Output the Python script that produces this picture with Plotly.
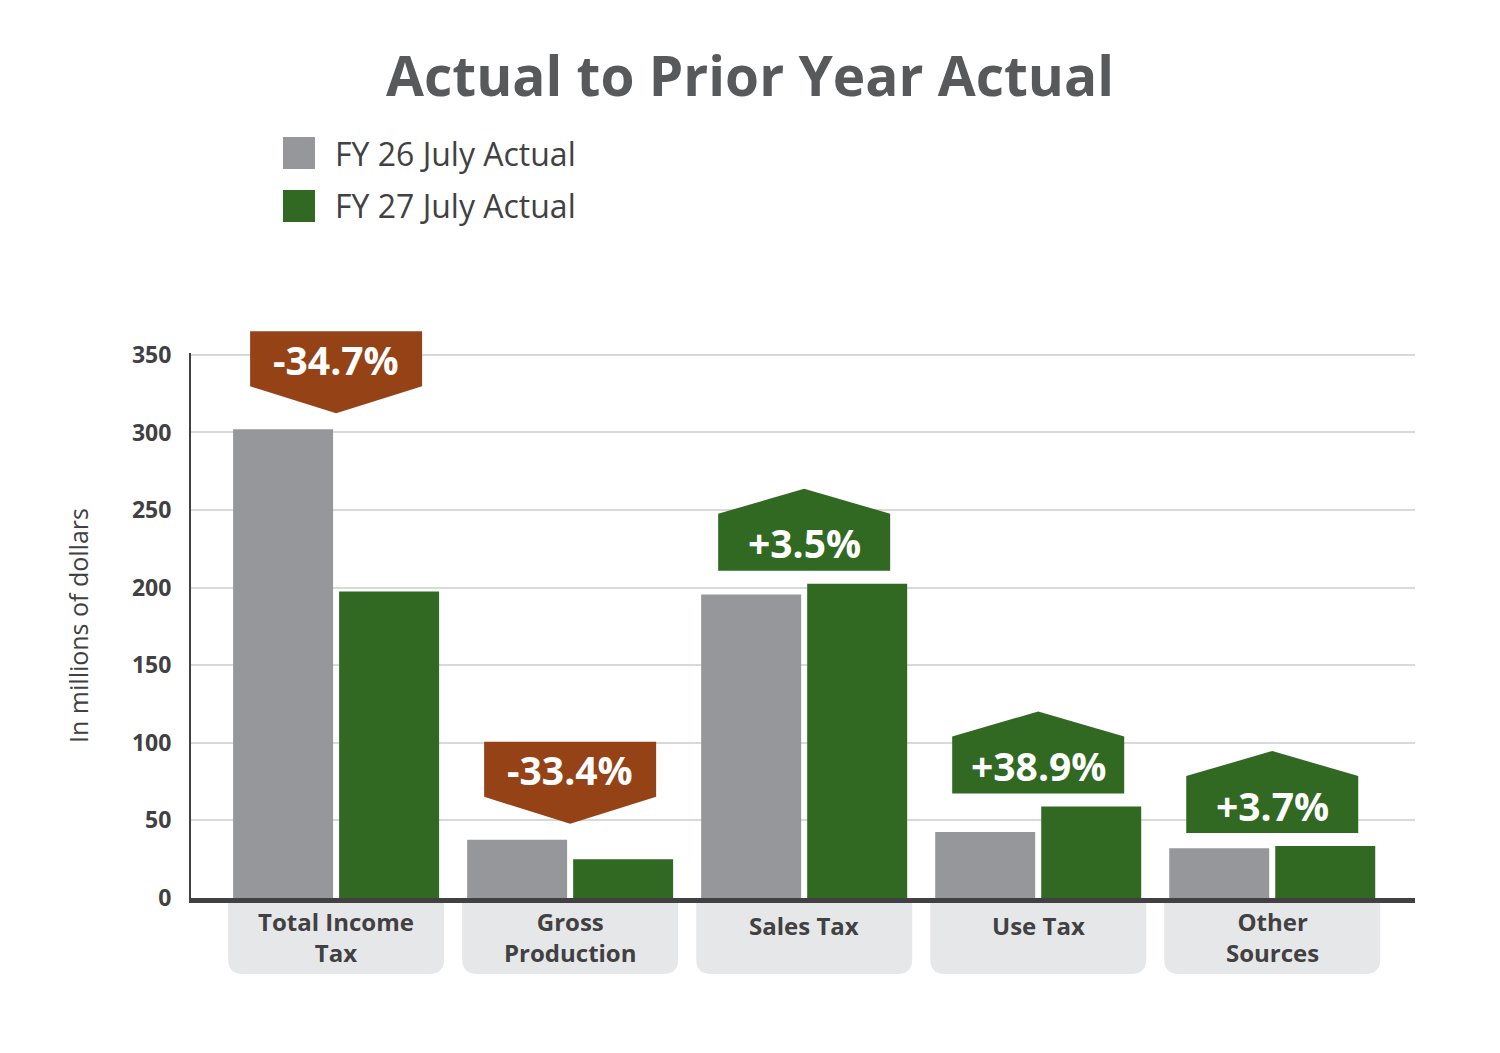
import plotly.graph_objects as go

# Data (millions of dollars)
categories = ["Total Income Tax", "Gross Production", "Sales Tax", "Use Tax", "Other Sources"]
label_lines = [["Total Income", "Tax"], ["Gross", "Production"], ["Sales Tax"], ["Use Tax"], ["Other", "Sources"]]
fy26 = [302, 37.5, 195.5, 42.5, 32]
fy27 = [197.5, 25, 202.5, 59, 33.5]
changes = ["-34.7%", "-33.4%", "+3.5%", "+38.9%", "+3.7%"]
series_names = ["FY 26 July Actual", "FY 27 July Actual"]
y_ticks = [0, 50, 100, 150, 200, 250, 300, 350]

GRAY = "#96979b"
GREEN = "#316822"
BROWN = "#944216"
DARK = "#414042"
TITLE = "#58595b"
BOX = "#e6e7e8"
FONT = "Open Sans"

# page has an 8px body margin, so shift everything up/left by that
OFF = 8
W, H = 1500, 1053
L, R, T, B = 191 - OFF, 85 + OFF, 353 - OFF, 155 + OFF
YMAX = 351.2  # a little headroom so the 350 gridline is not clipped


def paper_x(px):
    return (px - OFF - L) / (W - L - R)


def paper_y(py):
    return (H - B - (py - OFF)) / (H - T - B)


fig = go.Figure()
fig.add_trace(go.Bar(x=list(range(len(categories))), y=fy26, name=series_names[0],
                     marker=dict(color=GRAY, line_width=0), showlegend=False))
fig.add_trace(go.Bar(x=list(range(len(categories))), y=fy27, name=series_names[1],
                     marker=dict(color=GREEN, line_width=0), showlegend=False))

shapes = []
annotations = []

# change badges above each pair of bars
for i, (a, b, txt) in enumerate(zip(fy26, fy27, changes)):
    top = max(a, b) / YMAX
    if txt.startswith("-"):
        path = "M 0,16 L 86,43 L 86,98 L -86,98 L -86,43 Z"
        color, mid = BROWN, 70
    else:
        path = "M -86,13 L 86,13 L 86,70 L 0,95 L -86,70 Z"
        color, mid = GREEN, 41
    shapes.append(dict(type="path", xref="x", yref="paper", xsizemode="pixel", ysizemode="pixel",
                       xanchor=i, yanchor=top, path=path, fillcolor=color, line_width=0, layer="above"))
    annotations.append(dict(text=f"<b>{txt}</b>", x=i, y=top, xref="x", yref="paper", yshift=mid,
                            showarrow=False, yanchor="middle",
                            font=dict(family=FONT, size=39, color="white")))

# category label boxes under the axis
for i, lines in enumerate(label_lines):
    shapes.append(dict(type="path", xref="x", yref="paper", xsizemode="pixel", ysizemode="pixel",
                       xanchor=i, yanchor=0,
                       path="M -108,-3 L 108,-3 L 108,-61 Q 108,-76 93,-76 L -93,-76 Q -108,-76 -108,-61 Z",
                       fillcolor=BOX, line_width=0, layer="below"))
    annotations.append(dict(text="<b>" + "<br>".join(lines) + "</b>", x=i, y=0, xref="x", yref="paper",
                            yshift=-27 if len(lines) == 1 else -39, yanchor="middle", showarrow=False,
                            font=dict(family=FONT, size=24, color=DARK)))

# manual legend
for k, (name, color) in enumerate(zip(series_names, [GRAY, GREEN])):
    cy = paper_y(153 + 53 * k)
    shapes.append(dict(type="path", xref="paper", yref="paper", xsizemode="pixel", ysizemode="pixel",
                       xanchor=paper_x(299), yanchor=cy,
                       path="M -16,-16 L 16,-16 L 16,16 L -16,16 Z", fillcolor=color, line_width=0))
    annotations.append(dict(text=name, x=paper_x(333), y=cy, xref="paper", yref="paper",
                            xanchor="left", yanchor="middle", showarrow=False,
                            font=dict(family=FONT, size=32, color=DARK)))

fig.update_layout(
    width=W, height=H,
    margin=dict(l=L, r=R, t=T, b=B),
    paper_bgcolor="white", plot_bgcolor="white",
    barmode="group", bargap=0.094, bargroupgap=0.057,
    title=dict(text="<b>Actual to Prior Year Actual</b>", x=(750 - OFF) / W, xref="container",
               xanchor="center", y=1 - (77 - OFF) / H, yanchor="middle",
               font=dict(family=FONT, size=55, color=TITLE)),
    shapes=shapes,
    annotations=annotations,
    showlegend=False,
)

fig.update_xaxes(range=[-0.62, 4.61], showticklabels=False, showgrid=False, zeroline=False,
                 showline=True, linewidth=5, linecolor=DARK, ticks="")
fig.update_yaxes(range=[0, YMAX], tickvals=y_ticks, showgrid=True, gridcolor="#d9d9d9", gridwidth=2,
                 zeroline=False, showline=True, linewidth=2, linecolor=DARK, ticks="",
                 ticklabelstandoff=13,
                 tickfont=dict(family=FONT, size=23, color=DARK, weight="bold"),
                 title=dict(text="In millions of dollars", standoff=36,
                            font=dict(family=FONT, size=25, color=DARK)))

fig.write_html("out.html")
